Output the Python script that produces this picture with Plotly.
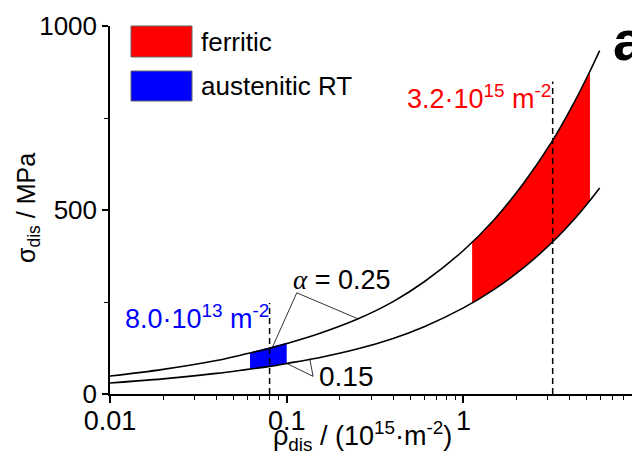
import plotly.graph_objects as go

# ---- data ----
rho = [0.01, 0.02, 0.04, 0.06, 0.08, 0.1, 0.15, 0.25, 0.4, 0.6, 1.0, 1.5, 2.2, 3.16, 4.2, 5.2, 5.9]
sigma_a025 = [49, 67, 91, 110, 124, 137, 163, 203, 251, 305, 390, 475, 574, 685, 789, 877, 933]
sigma_a015 = [30, 41, 56, 67, 75, 83, 98, 122, 151, 183, 234, 285, 344, 411, 473, 526, 560]

ferritic_x = [1.12, 1.5, 2.0, 2.6, 3.16, 4.0, 5.2]
ferritic_top = [412, 475, 547, 623, 685, 770, 877]
ferritic_bot = [247, 285, 328, 374, 411, 462, 526]

austenitic_x = [0.062, 0.08, 0.1]
austenitic_top = [113, 126, 139]
austenitic_bot = [67, 75, 83]

rho_austenitic = 0.08   # 8.0e13 m^-2
rho_ferritic = 3.2      # 3.2e15 m^-2
dash_top_austenitic = 247
dash_top_ferritic = 849

# leader lines (apex -> curve points)
lead025_x = [0.083, 0.114, 0.254]
lead025_y = [127, 275, 204]
lead015_x = [0.1, 0.141, 0.135]
lead015_y = [83, 48, 96]

FONT = "Liberation Sans, Arial, sans-serif"

fig = go.Figure()

# bands
fig.add_trace(go.Scatter(x=ferritic_x + ferritic_x[::-1], y=ferritic_top + ferritic_bot[::-1],
                         fill="toself", fillcolor="#ff0000", mode="lines",
                         line=dict(width=0, color="#ff0000"), hoverinfo="skip", showlegend=False))
fig.add_trace(go.Scatter(x=austenitic_x + austenitic_x[::-1], y=austenitic_top + austenitic_bot[::-1],
                         fill="toself", fillcolor="#0000ff", mode="lines",
                         line=dict(width=0, color="#0000ff"), hoverinfo="skip", showlegend=False))

# curves
for ys in (sigma_a025, sigma_a015):
    fig.add_trace(go.Scatter(x=rho, y=ys, mode="lines", line=dict(color="black", width=1.6, shape="spline"),
                             showlegend=False, hoverinfo="skip"))

# dashed reference lines
fig.add_trace(go.Scatter(x=[rho_austenitic, rho_austenitic], y=[0, dash_top_austenitic], mode="lines",
                         line=dict(color="black", width=1.5, dash="6px,4px"), showlegend=False))
fig.add_trace(go.Scatter(x=[rho_ferritic, rho_ferritic], y=[0, dash_top_ferritic], mode="lines",
                         line=dict(color="black", width=1.5, dash="6px,4px"), showlegend=False))

# leader lines
fig.add_trace(go.Scatter(x=lead025_x, y=lead025_y, mode="lines", line=dict(color="black", width=0.8),
                         showlegend=False))
fig.add_trace(go.Scatter(x=lead015_x, y=lead015_y, mode="lines", line=dict(color="black", width=0.8),
                         showlegend=False))

minor_x = [0.02, 0.03, 0.04, 0.05, 0.06, 0.07, 0.08, 0.09,
           0.2, 0.3, 0.4, 0.5, 0.6, 0.7, 0.8, 0.9,
           2, 3, 4, 5, 6, 7, 8, 9]

fig.update_xaxes(type="log", range=[-2, 0.954], tickvals=[0.01, 0.1, 1], ticktext=["0.01", "0.1", "1"],
                 ticks="outside", ticklen=7, tickwidth=1.5, tickcolor="black", ticklabelstandoff=-5,
                 showline=True, linecolor="black", linewidth=1.5, showgrid=False, zeroline=False,
                 tickfont=dict(family=FONT, size=27, color="black"),
                 minor=dict(tickvals=minor_x, ticks="outside", ticklen=4, tickwidth=1, tickcolor="black",
                            showgrid=False))
fig.update_yaxes(range=[0, 1000], tickvals=[0, 500, 1000],
                 ticks="outside", ticklen=6, tickwidth=1.5, tickcolor="black",
                 showline=True, linecolor="black", linewidth=1.5, showgrid=False, zeroline=False,
                 tickfont=dict(family=FONT, size=26, color="black"),
                 minor=dict(tickvals=[250, 750], ticks="outside", ticklen=4, tickwidth=1, tickcolor="black",
                            showgrid=False))

# legend (drawn manually)
fig.add_shape(type="rect", xref="paper", yref="paper", x0=21/522, x1=82/522, y0=1 - 31/368, y1=1.0,
              fillcolor="#ff0000", line=dict(color="#666666", width=1))
fig.add_shape(type="rect", xref="paper", yref="paper", x0=21/522, x1=82/522, y0=1 - 75/368, y1=1 - 45/368,
              fillcolor="#0000ff", line=dict(color="#666666", width=1))

anns = [
    dict(text="ferritic", x=89/522, y=1 - 16/368, xanchor="left", yanchor="middle", size=26, color="black"),
    dict(text="austenitic RT", x=89/522, y=1 - 60/368, xanchor="left", yanchor="middle", size=26, color="black"),
    dict(text="3.2·10<sup>15</sup> m<sup>-2</sup>", x=295/522, y=1 - 71/368, xanchor="left", yanchor="middle",
         size=27, color="#ff0000"),
    dict(text="8.0·10<sup>13</sup> m<sup>-2</sup>", x=13/522, y=1 - 291/368, xanchor="left", yanchor="middle",
         size=27, color="#0000ff"),
    dict(text="<span style='font-family:Liberation Serif'><i>α</i></span> = 0.25", x=181/522, y=1 - 254/368,
         xanchor="left", yanchor="middle", size=27, color="black"),
    dict(text="0.15", x=207/522, y=1 - 350/368, xanchor="left", yanchor="middle", size=28, color="black"),
    dict(text="<b>a</b>", x=501/522, y=1 - 14/368, xanchor="left", yanchor="middle", size=56, color="black"),
    dict(text="σ<sub>dis</sub> / MPa", x=-82/522, y=1 - 182/368, xanchor="center", yanchor="middle",
         size=25, color="black", textangle=-90),
    dict(text="ρ<sub>dis</sub> / (10<sup>15</sup>·m<sup>-2</sup>)", x=252/522, y=-42/368, xanchor="center",
         yanchor="middle", size=27, color="black"),
]
for a in anns:
    fig.add_annotation(text=a["text"], x=a["x"], y=a["y"], xref="paper", yref="paper",
                       xanchor=a["xanchor"], yanchor=a["yanchor"], showarrow=False,
                       textangle=a.get("textangle", 0),
                       font=dict(family=FONT, size=a["size"], color=a["color"]))

fig.update_layout(width=632, height=462, margin=dict(l=110, r=0, t=26, b=68),
                  plot_bgcolor="white", paper_bgcolor="white", showlegend=False)

fig.write_html("out.html")
